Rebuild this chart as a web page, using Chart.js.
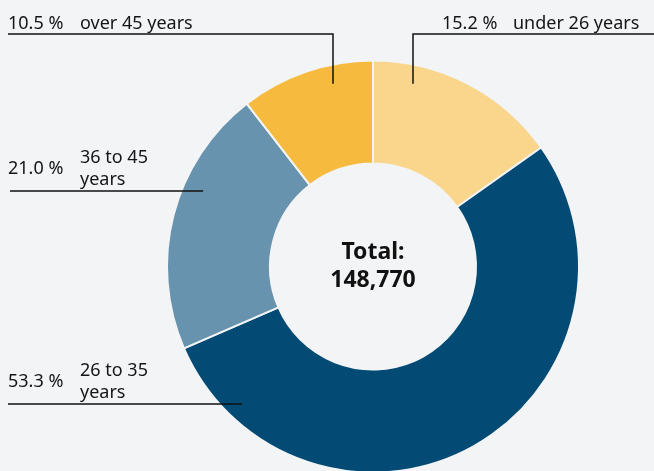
<!DOCTYPE html>
<html>
<head>
<meta charset="utf-8">
<script src="https://cdn.jsdelivr.net/npm/chart.js@4"></script>
<style>
  html, body { margin: 0; padding: 0; background: #f3f4f6; overflow: hidden; }
  #wrap { width: 654px; height: 480px; }
</style>
</head>
<body>
<div id="wrap"><canvas id="ageChart" width="654" height="480"></canvas></div>
<script>
const categories = ["under 26 years", "26 to 35 years", "36 to 45 years", "over 45 years"];
const shares = [15.2, 53.3, 21.0, 10.5];
const labelLines = [["under 26 years"], ["26 to 35", "years"], ["36 to 45", "years"], ["over 45 years"]];
const totalText = ["Total:", "148,770"];
const colors = ["#f9d68b", "#034b75", "#6793af", "#f6bb3e"];

// where each leader line touches its slice (degrees clockwise from top, radius in px)
const anchors = [
  { angle: 12.3, r: 187, side: "top", lineY: 34, lineEnd: 654, pctX: 442, textX: 513, baseY: 29 },
  { angle: 223.5, r: 190, side: "left", lineStart: 8, pctX: 8, textX: 80, baseY: 376 },
  { angle: 294, r: 186, side: "left", lineStart: 10, pctX: 8, textX: 80, baseY: 163 },
  { angle: 347.7, r: 187, side: "top", lineY: 34, lineEnd: 8, pctX: 8, textX: 80, baseY: 29 }
];

const font = '18px "Noto Sans", "Open Sans", sans-serif';

const labelPlugin = {
  id: "leaderLabels",
  afterDraw(chart) {
    const ctx = chart.ctx;
    const arc = chart.getDatasetMeta(0).data[0];
    const cx = arc.x, cy = arc.y;
    ctx.save();
    ctx.strokeStyle = "#111";
    ctx.lineWidth = 1.5;
    ctx.fillStyle = "#151515";
    ctx.font = font;
    ctx.textBaseline = "alphabetic";
    ctx.textAlign = "left";
    anchors.forEach((a, i) => {
      const t = a.angle * Math.PI / 180;
      const ax = cx + a.r * Math.sin(t);
      const ay = cy - a.r * Math.cos(t);
      ctx.beginPath();
      if (a.side === "top") {
        ctx.moveTo(Math.round(ax), ay);
        ctx.lineTo(Math.round(ax), a.lineY);
        ctx.lineTo(a.lineEnd, a.lineY);
      } else {
        const y = Math.round(ay);
        ctx.moveTo(a.lineStart, y);
        ctx.lineTo(ax, y);
      }
      ctx.stroke();
      const pct = shares[i].toFixed(1) + " %";
      const lines = labelLines[i];
      if (lines.length === 1) {
        ctx.fillText(pct, a.pctX, a.baseY);
        ctx.fillText(lines[0], a.textX, a.baseY);
      } else {
        ctx.fillText(pct, a.pctX, a.baseY + 11);
        lines.forEach((l, k) => ctx.fillText(l, a.textX, a.baseY + k * 22));
      }
    });
    ctx.font = 'bold 23px "Noto Sans", "Open Sans", sans-serif';
    ctx.textAlign = "center";
    ctx.fillStyle = "#111";
    ctx.fillText(totalText[0], cx, cy - 8);
    ctx.fillText(totalText[1], cx, cy + 20);
    ctx.restore();
  }
};

new Chart(document.getElementById("ageChart"), {
  type: "doughnut",
  data: {
    labels: categories,
    datasets: [{
      data: shares,
      backgroundColor: colors,
      borderColor: "#f3f4f6",
      borderWidth: 2
    }]
  },
  options: {
    responsive: false,
    animation: false,
    cutout: "50%",
    layout: { padding: { left: 166, right: 74, top: 59, bottom: 6 } },
    plugins: {
      legend: { display: false },
      tooltip: { enabled: false }
    }
  },
  plugins: [labelPlugin]
});
</script>
</body>
</html>
